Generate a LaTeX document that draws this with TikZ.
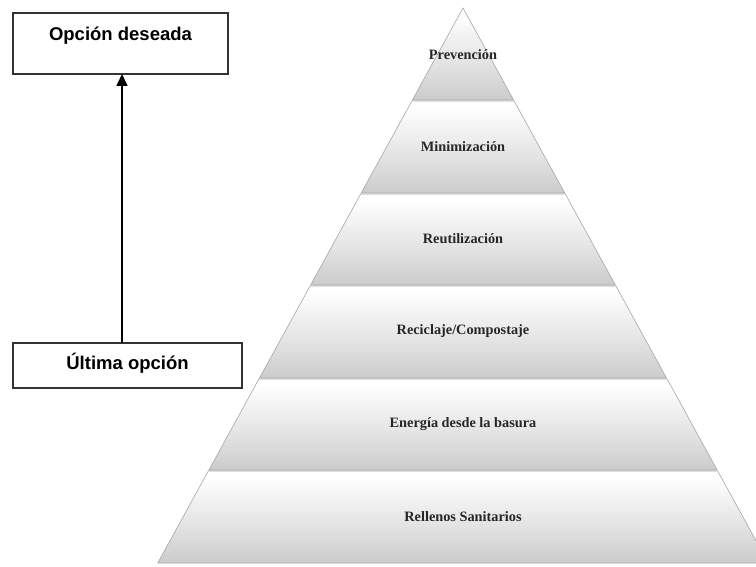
\documentclass[tikz,border=0pt]{standalone}
\usepackage{fontspec}
\setmainfont{Liberation Serif}
\newfontfamily\boxfont{Liberation Sans}
\usetikzlibrary{arrows.meta}
\pgfdeclareverticalshading{layershade}{100bp}{color(0bp)=(black!48); color(5bp)=(black!36); color(12bp)=(black!26); color(45bp)=(black!11); color(72bp)=(white); color(100bp)=(white)}
\begin{document}
\begin{tikzpicture}[x=1pt,y=-1pt,
  layer/.style={shading=layershade, draw=black!35, line width=0.6pt},
  lvl/.style={font=\fontsize{14.3}{17}\selectfont\bfseries, text=black!85, inner sep=0pt},
  optbox/.style={draw=black!80, line width=1.2pt, fill=white, inner xsep=0pt, inner ysep=0pt,
    font=\boxfont\fontsize{18.5}{22}\selectfont\bfseries},
  uparrow/.style={-{Triangle[length=12pt,width=11pt]}, line width=1.6pt, black}]
\useasboundingbox (0,0) rectangle (756,567);
\clip (0,0) rectangle (756,567);
% pyramid layers
\shade[layer] (463,8) -- (513.6,100) -- (412.4,100) -- cycle;
\shade[layer] (411.9,101) -- (514.1,101) -- (564.75,193) -- (361.25,193) -- cycle;
\shade[layer] (360.7,194) -- (565.3,194) -- (615.35,285) -- (310.65,285) -- cycle;
\shade[layer] (310.1,286) -- (615.9,286) -- (666.5,378) -- (259.5,378) -- cycle;
\shade[layer] (258.9,379) -- (667.1,379) -- (717.1,470) -- (208.9,470) -- cycle;
\shade[layer] (208.3,471) -- (717.7,471) -- (768.25,563) -- (157.75,563) -- cycle;
% labels
\node[lvl] (l1) at (463,55) {Prevención};
\node[lvl] (l2) at (463,147) {Minimización};
\node[lvl] (l3) at (463,239) {Reutilización};
\node[lvl] (l4) at (463,331) {Reciclaje/Compostaje};
\node[lvl] (l5) at (463,424) {Energía desde la basura};
\node[lvl] (l6) at (463,517) {Rellenos Sanitarios};
% left boxes
\node[optbox, minimum width=215pt, text height=27.5pt, text depth=33.5pt] (des) at (120.5,43.5) {Opción deseada};
\node[optbox, minimum width=229pt, text height=26.5pt, text depth=18.5pt] (ult) at (127.5,365.5) {Última opción};
\coordinate (a0) at (122,343);
\coordinate (a1) at (122,74);
\draw[uparrow] (a0) -- (a1);
\end{tikzpicture}
\end{document}
